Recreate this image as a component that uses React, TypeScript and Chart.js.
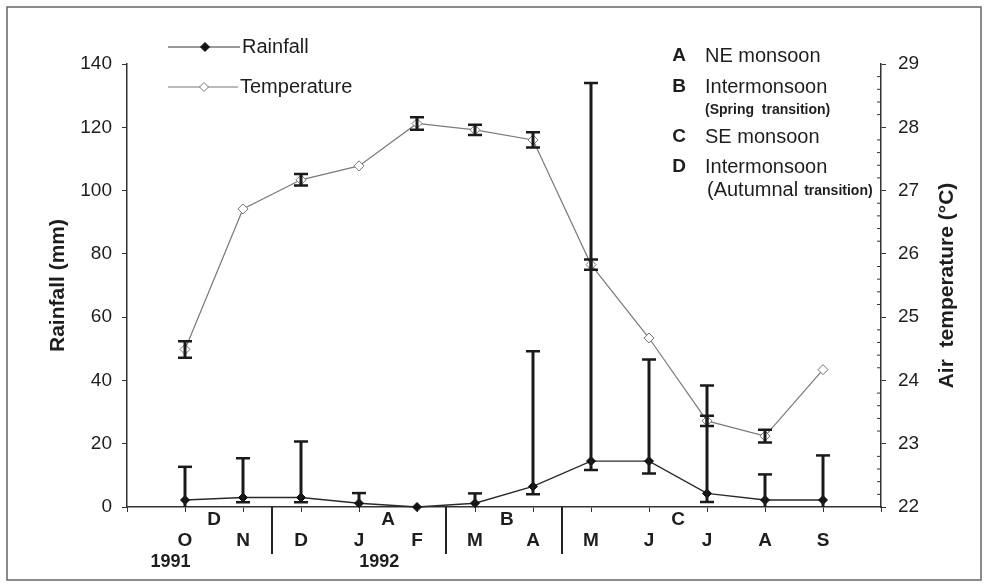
import React, { useEffect, useRef } from 'react';
import { Chart, registerables } from 'chart.js';

Chart.register(...registerables);

const FONT = '"Liberation Sans", Arial, Helvetica, sans-serif';

// ---- data ----
const months = ['O', 'N', 'D', 'J', 'F', 'M', 'A', 'M', 'J', 'J', 'A', 'S'];
const rainfall = [2.2, 3, 3, 1.2, 0, 1.2, 6.5, 14.5, 14.5, 4.3, 2.2, 2.2];
const rainLower = [0, 1.5, 1.5, 0, null, 0, 4, 11.7, 10.6, 1.6, 0, 0];
const rainUpper = [12.7, 15.4, 20.7, 4.4, null, 4.3, 49.2, 134, 46.6, 38.4, 10.3, 16.3];
const temperature = [24.49, 26.71, 27.17, 27.39, 28.06, 27.96, 27.8, 25.83, 24.67, 23.36, 23.12, 24.17];
const tempSD = [0.13, 0, 0.09, 0, 0.1, 0.08, 0.12, 0.08, 0, 0.08, 0.1, 0];

const seasonLetters = ['D', 'A', 'B', 'C'];
const seasonCenters = [1.5, 4.5, 6.55, 9.5];
const seasonBounds = [2.5, 5.5, 7.5];
const years = ['1991', '1992'];
const yearCenters = [0.75, 4.35];

const keyLetters = ['A', 'B', 'C', 'D'];
const keyNames = ['NE monsoon', 'Intermonsoon', 'SE monsoon', 'Intermonsoon'];

const overlayPlugin = {
  id: 'overlay',
  beforeDraw(chart: any) {
    const ctx = chart.ctx;
    ctx.save();
    ctx.fillStyle = '#ffffff';
    ctx.fillRect(0, 0, chart.width, chart.height);
    ctx.strokeStyle = '#666';
    ctx.lineWidth = 1.5;
    ctx.strokeRect(7, 7, 974, 573);
    ctx.restore();
  },
  afterDatasetsDraw(chart: any) {
    const ctx = chart.ctx;
    const x = chart.scales.x;
    const y = chart.scales.y;
    const y1 = chart.scales.y1;
    ctx.save();
    ctx.strokeStyle = '#1a1a1a';
    // rainfall error bars
    rainfall.forEach((_, i) => {
      const lo = rainLower[i];
      const hi = rainUpper[i];
      if (lo === null || hi === null) return;
      const px = x.getPixelForValue(i + 1);
      const pLo = y.getPixelForValue(lo);
      const pHi = y.getPixelForValue(hi);
      ctx.lineWidth = 3;
      ctx.beginPath();
      ctx.moveTo(px, pLo);
      ctx.lineTo(px, pHi);
      ctx.stroke();
      ctx.lineWidth = 2.5;
      ctx.beginPath();
      ctx.moveTo(px - 7, pHi);
      ctx.lineTo(px + 7, pHi);
      if (lo > 0) {
        ctx.moveTo(px - 7, pLo);
        ctx.lineTo(px + 7, pLo);
      }
      ctx.stroke();
    });
    // temperature error bars
    temperature.forEach((t, i) => {
      const sd = tempSD[i];
      if (!sd) return;
      const px = x.getPixelForValue(i + 1);
      const pLo = y1.getPixelForValue(t - sd);
      const pHi = y1.getPixelForValue(t + sd);
      ctx.lineWidth = 3;
      ctx.beginPath();
      ctx.moveTo(px, pLo);
      ctx.lineTo(px, pHi);
      ctx.stroke();
      ctx.lineWidth = 2.5;
      ctx.beginPath();
      ctx.moveTo(px - 7, pHi);
      ctx.lineTo(px + 7, pHi);
      ctx.moveTo(px - 7, pLo);
      ctx.lineTo(px + 7, pLo);
      ctx.stroke();
    });
    ctx.restore();
  },
  afterDraw(chart: any) {
    const ctx = chart.ctx;
    const x = chart.scales.x;
    const y1 = chart.scales.y1;
    const area = chart.chartArea;
    ctx.save();

    // right axis minor ticks
    ctx.strokeStyle = '#333';
    ctx.lineWidth = 1;
    for (let k = 0; k <= 35; k++) {
      const v = 22 + k * 0.2;
      if (k % 5 === 0) continue;
      const py = y1.getPixelForValue(v);
      ctx.beginPath();
      ctx.moveTo(area.right, py);
      ctx.lineTo(area.right - 4, py);
      ctx.stroke();
    }

    // season dividers below axis
    ctx.strokeStyle = '#222';
    ctx.lineWidth = 2;
    seasonBounds.forEach((b) => {
      const px = x.getPixelForValue(b);
      ctx.beginPath();
      ctx.moveTo(px, area.bottom);
      ctx.lineTo(px, area.bottom + 47);
      ctx.stroke();
    });

    ctx.fillStyle = '#1e1e1e';
    ctx.textAlign = 'center';
    ctx.textBaseline = 'middle';
    ctx.font = `bold 19px ${FONT}`;
    seasonLetters.forEach((s, i) => {
      ctx.fillText(s, x.getPixelForValue(seasonCenters[i]), area.bottom + 13);
    });
    ctx.font = `bold 18px ${FONT}`;
    years.forEach((s, i) => {
      ctx.fillText(s, x.getPixelForValue(yearCenters[i]), area.bottom + 55);
    });

    // axis titles
    ctx.font = `bold 21px ${FONT}`;
    ctx.save();
    ctx.translate(58, (area.top + area.bottom) / 2);
    ctx.rotate(-Math.PI / 2);
    ctx.fillText('Rainfall (mm)', 0, 0);
    ctx.restore();
    ctx.save();
    ctx.translate(947, (area.top + area.bottom) / 2);
    ctx.rotate(-Math.PI / 2);
    ctx.fillText('Air  temperature (°C)', 0, 0);
    ctx.restore();

    // legend
    const drawDiamond = (cx: number, cy: number, r: number, fill: string, stroke: string) => {
      ctx.beginPath();
      ctx.moveTo(cx, cy - r);
      ctx.lineTo(cx + r, cy);
      ctx.lineTo(cx, cy + r);
      ctx.lineTo(cx - r, cy);
      ctx.closePath();
      ctx.fillStyle = fill;
      ctx.fill();
      ctx.strokeStyle = stroke;
      ctx.lineWidth = 1;
      ctx.stroke();
    };
    ctx.lineWidth = 1;
    ctx.strokeStyle = '#333';
    ctx.beginPath();
    ctx.moveTo(168, 47);
    ctx.lineTo(240, 47);
    ctx.stroke();
    drawDiamond(205, 47, 4.5, '#111', '#111');
    ctx.strokeStyle = '#777';
    ctx.lineWidth = 1;
    ctx.beginPath();
    ctx.moveTo(168, 87);
    ctx.lineTo(238, 87);
    ctx.stroke();
    drawDiamond(204, 87, 4.5, '#fff', '#777');

    ctx.fillStyle = '#1e1e1e';
    ctx.textAlign = 'left';
    ctx.font = `20px ${FONT}`;
    ctx.fillText('Rainfall', 242, 47);
    ctx.fillText('Temperature', 240, 87);

    // season key
    const keyY = [56, 87, 137, 167];
    ctx.textAlign = 'center';
    ctx.font = `bold 19px ${FONT}`;
    keyLetters.forEach((l, i) => ctx.fillText(l, 679, keyY[i]));
    ctx.textAlign = 'left';
    ctx.font = `20px ${FONT}`;
    keyNames.forEach((n, i) => ctx.fillText(n, 705, keyY[i]));
    ctx.font = `bold 14px ${FONT}`;
    ctx.fillText('(Spring  transition)', 705, 110);
    ctx.font = `20px ${FONT}`;
    ctx.fillText('(Autumnal', 707, 190);
    const w = ctx.measureText('(Autumnal').width;
    ctx.font = `bold 14px ${FONT}`;
    ctx.fillText('transition)', 707 + w + 6, 191);

    ctx.restore();
  },
};

export default function App() {
  const ref = useRef<HTMLCanvasElement | null>(null);

  useEffect(() => {
    if (!ref.current) return;
    const tickFont = { family: FONT, size: 19 };
    const chart = new Chart(ref.current, {
      type: 'line',
      data: {
        datasets: [
          {
            label: 'Rainfall',
            data: rainfall.map((v, i) => ({ x: i + 1, y: v })),
            yAxisID: 'y',
            borderColor: '#2a2a2a',
            borderWidth: 1.4,
            pointStyle: 'rectRot',
            pointRadius: 4.5,
            pointBackgroundColor: '#111',
            pointBorderColor: '#111',
            pointBorderWidth: 1,
            clip: false,
            tension: 0,
          },
          {
            label: 'Temperature',
            data: temperature.map((v, i) => ({ x: i + 1, y: v })),
            yAxisID: 'y1',
            borderColor: '#7a7a7a',
            borderWidth: 1.2,
            pointStyle: 'rectRot',
            pointRadius: 5,
            pointBackgroundColor: '#fff',
            pointBorderColor: '#777',
            pointBorderWidth: 1,
            clip: false,
            tension: 0,
          },
        ],
      },
      options: {
        responsive: false,
        maintainAspectRatio: false,
        animation: false,
        layout: { padding: { top: 64, left: 0, right: 0, bottom: 0 } },
        plugins: { legend: { display: false }, tooltip: { enabled: false } },
        scales: {
          x: {
            type: 'linear',
            position: 'bottom',
            min: 0,
            max: 13,
            afterFit: (s: any) => {
              s.height = 77;
            },
            ticks: {
              stepSize: 1,
              autoSkip: false,
              maxRotation: 0,
              padding: 17,
              color: '#1e1e1e',
              font: { family: FONT, size: 19, weight: 'bold' },
              callback: (v: any) => months[Number(v) - 1] ?? '',
            },
            grid: { drawOnChartArea: false, tickLength: 5, color: '#333' },
            border: { color: '#333', width: 1.5 },
          },
          y: {
            position: 'left',
            min: 0,
            max: 140,
            afterFit: (s: any) => {
              s.width = 127;
            },
            ticks: { stepSize: 20, padding: 10, color: '#1e1e1e', font: tickFont },
            grid: { drawOnChartArea: false, tickLength: 5, color: '#333' },
            border: { color: '#333', width: 1.5 },
          },
          y1: {
            position: 'right',
            min: 22,
            max: 29,
            afterFit: (s: any) => {
              s.width = 106;
            },
            ticks: { stepSize: 1, padding: 12, color: '#1e1e1e', font: tickFont },
            grid: { drawOnChartArea: false, tickLength: 5, color: '#333' },
            border: { color: '#333', width: 1.5 },
          },
        },
      },
      plugins: [overlayPlugin],
    } as any);
    return () => chart.destroy();
  }, []);

  return (
    <div style={{ position: 'absolute', left: 0, top: 0, width: 987, height: 584, background: '#fff' }}>
      <canvas ref={ref} width={987} height={584} style={{ display: 'block', width: 987, height: 584 }} />
    </div>
  );
}
